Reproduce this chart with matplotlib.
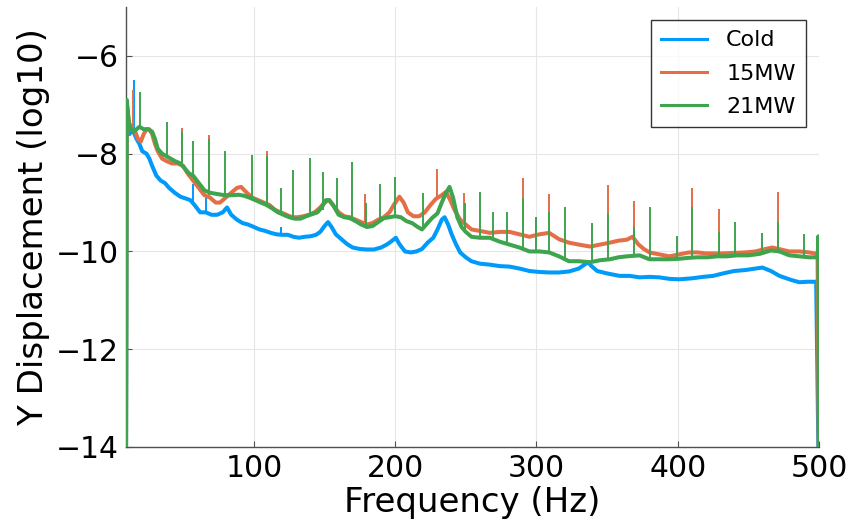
import matplotlib
matplotlib.use('Agg')
import matplotlib.pyplot as plt

# --- data (log10 displacement vs frequency) ---
cold_freq = [9.5, 10, 12, 14, 17, 19, 21, 24, 26, 28, 31, 34, 37, 40, 44, 48, 52, 55, 58,
             62, 66, 70, 74, 78, 81, 84, 88, 92, 96, 100, 104, 108, 112, 116, 120, 124,
             128, 132, 136, 140, 144, 147, 150, 152.5, 155, 158, 162, 166, 170, 175, 180,
             185, 190, 194, 197, 200.5, 203, 207, 211, 215, 219, 223, 227, 230, 233, 235,
             237.5, 240, 243, 246, 250, 254, 260, 267, 274, 281, 288, 295, 302, 309, 316,
             323, 330, 334, 336.5, 339, 343, 350, 359, 366, 373, 380, 387, 394, 401, 410,
             418, 425, 432, 440, 448, 455, 460, 466, 472, 480, 486, 492, 498, 500]
cold_val = [-14.5, -7.3, -7.6, -7.5, -7.7, -7.8, -7.95, -8.0, -8.1, -8.25, -8.45, -8.55,
            -8.6, -8.7, -8.8, -8.88, -8.92, -8.95, -9.05, -9.2, -9.2, -9.25, -9.25, -9.2,
            -9.1, -9.25, -9.35, -9.42, -9.45, -9.5, -9.55, -9.58, -9.62, -9.65, -9.66,
            -9.66, -9.7, -9.72, -9.7, -9.69, -9.66, -9.6, -9.48, -9.4, -9.5, -9.65, -9.75,
            -9.85, -9.92, -9.95, -9.96, -9.96, -9.92, -9.86, -9.8, -9.72, -9.85, -10.0,
            -10.02, -10.0, -9.95, -9.82, -9.72, -9.55, -9.35, -9.3, -9.45, -9.65, -9.85,
            -10.02, -10.12, -10.2, -10.25, -10.27, -10.3, -10.31, -10.35, -10.4, -10.42,
            -10.43, -10.43, -10.41, -10.35, -10.27, -10.22, -10.3, -10.4, -10.45, -10.5,
            -10.5, -10.53, -10.52, -10.53, -10.56, -10.57, -10.55, -10.52, -10.5, -10.45,
            -10.4, -10.38, -10.35, -10.33, -10.4, -10.5, -10.58, -10.63, -10.62, -10.62,
            -15.0]
cold_peak_freq = [15, 57, 66, 119]
cold_peak_base = [-7.6, -9.0, -9.2, -9.66]
cold_peak_top = [-6.5, -8.63, -8.9, -9.5]

mw15_freq = [9.5, 10, 11.5, 13, 16, 18, 20, 22, 24, 26, 28, 30, 32, 35, 38, 42, 46, 50, 53,
             57, 61, 65, 69, 73, 76, 80, 84, 88, 91, 95, 99, 103, 107, 111, 115, 119, 123,
             127, 131, 135, 139, 143, 147, 150, 153, 156, 160, 164, 168, 172, 176, 180,
             184, 188, 192, 196, 199, 203, 206, 209, 213, 217, 221, 225, 229, 233, 236,
             239, 242, 246, 250, 254, 260, 267, 274, 281, 288, 295, 302, 309, 316, 323,
             330, 338, 345, 352, 358, 364, 368, 372, 376, 380, 387, 394, 401, 408, 414,
             420, 426, 432, 440, 448, 455, 462, 467, 473, 479, 486, 493, 499, 500]
mw15_val = [-14.5, -6.95, -7.35, -7.5, -7.55, -7.7, -7.75, -7.6, -7.5, -7.5, -7.6, -7.8,
            -7.95, -8.1, -8.15, -8.2, -8.2, -8.25, -8.4, -8.55, -8.7, -8.85, -8.9, -9.0,
            -9.0, -8.9, -8.8, -8.7, -8.68, -8.8, -8.9, -8.95, -9.0, -9.05, -9.15, -9.2,
            -9.25, -9.3, -9.3, -9.28, -9.25, -9.2, -9.1, -9.0, -8.95, -9.05, -9.2, -9.28,
            -9.3, -9.35, -9.4, -9.45, -9.42, -9.35, -9.3, -9.2, -9.05, -8.88, -9.0, -9.2,
            -9.28, -9.28, -9.2, -9.05, -8.92, -8.85, -8.78, -8.95, -9.15, -9.35, -9.45,
            -9.55, -9.58, -9.62, -9.6, -9.6, -9.65, -9.7, -9.65, -9.62, -9.75, -9.82,
            -9.86, -9.9, -9.86, -9.82, -9.78, -9.76, -9.7, -9.85, -9.95, -10.02, -10.06,
            -10.1, -10.06, -10.02, -10.02, -10.04, -10.04, -10.04, -10.03, -10.02, -10.0,
            -9.95, -9.92, -9.96, -10.0, -10.0, -10.02, -10.05, -15.0]
mw15_peak_freq = [14.5, 49, 68, 109, 179, 229.6, 248.7, 290.4, 299.6, 308.8, 350.6, 369,
                  410, 429, 471]
mw15_peak_base = [-7.5, -8.22, -8.88, -9.02, -9.44, -8.92, -9.4, -9.67, -9.67, -9.62,
                  -9.83, -9.72, -10.03, -10.04, -9.95]
mw15_peak_top = [-6.69, -7.47, -7.61, -7.95, -8.82, -8.31, -8.8, -8.49, -9.29, -8.82,
                 -8.65, -8.96, -8.71, -9.14, -8.78]

mw21_freq = [9.5, 10, 11.5, 13, 15, 17, 19, 22, 25, 28, 30, 32, 35, 38, 41, 44, 48, 51, 54,
             57, 61, 65, 69, 73, 77, 81, 85, 89, 93, 97, 101, 105, 109, 113, 117, 121, 125,
             129, 133, 137, 141, 145, 148, 151, 153.5, 156, 160, 164, 168, 172, 176, 180,
             184, 188, 192, 196, 200, 204, 208, 212, 216, 219, 222, 226, 230, 233, 236,
             238.5, 241, 244, 247, 250, 254, 260, 267, 274, 281, 288, 295, 302, 309, 316,
             323, 330, 338, 345, 352, 358, 364, 373, 380, 387, 394, 401, 408, 414, 421,
             428, 435, 442, 450, 458, 466, 472, 479, 486, 493, 499, 499.6, 500]
mw21_val = [-14.5, -6.9, -7.35, -7.5, -7.55, -7.5, -7.45, -7.5, -7.5, -7.55, -7.7, -7.9,
            -8.0, -8.05, -8.1, -8.15, -8.2, -8.3, -8.4, -8.45, -8.6, -8.75, -8.8, -8.82,
            -8.84, -8.85, -8.85, -8.84, -8.86, -8.9, -8.95, -9.0, -9.05, -9.12, -9.2,
            -9.25, -9.3, -9.33, -9.33, -9.28, -9.24, -9.2, -9.1, -8.95, -8.95, -9.05,
            -9.25, -9.3, -9.32, -9.38, -9.45, -9.5, -9.48, -9.4, -9.32, -9.3, -9.28,
            -9.3, -9.38, -9.42, -9.5, -9.55, -9.45, -9.32, -9.22, -9.0, -8.8, -8.68,
            -8.9, -9.3, -9.5, -9.6, -9.7, -9.72, -9.72, -9.8, -9.86, -9.92, -10.0, -10.0,
            -10.02, -10.1, -10.2, -10.2, -10.22, -10.18, -10.16, -10.12, -10.1, -10.08,
            -10.16, -10.16, -10.16, -10.15, -10.13, -10.12, -10.12, -10.1, -10.1, -10.08,
            -10.08, -10.05, -9.98, -10.0, -10.08, -10.1, -10.12, -10.12, -9.69, -15.0]
mw21_peak_freq = [19.3, 38.4, 49, 56.8, 68, 79.5, 98.6, 109, 119, 128, 139.6, 149, 158.8,
                  169.4, 179.3, 189.2, 200, 219.6, 249.4, 260, 269, 279, 290.4, 299.6,
                  308.8, 320, 339.3, 350.6, 369, 380.4, 399.5, 410, 429, 440.5, 459.6,
                  471, 489.4]
mw21_peak_base = [-7.45, -8.05, -8.22, -8.45, -8.8, -8.85, -8.9, -9.05, -9.2, -9.32,
                  -9.25, -9.15, -9.2, -9.32, -9.5, -9.4, -9.28, -9.55, -9.6, -9.72, -9.72,
                  -9.85, -9.93, -10.0, -10.02, -10.15, -10.22, -10.17, -10.1, -10.16,
                  -10.15, -10.13, -10.1, -10.08, -10.05, -10.0, -10.11]
mw21_peak_top = [-6.73, -7.35, -7.55, -7.74, -7.7, -7.95, -8.02, -8.05, -8.7, -8.33,
                 -8.08, -8.37, -8.49, -8.18, -9.0, -8.63, -8.47, -8.8, -9.0, -8.78, -9.2,
                 -9.2, -8.9, -9.29, -9.2, -9.1, -9.41, -9.24, -9.5, -9.1, -9.69, -9.1,
                 -9.6, -9.39, -9.63, -9.39, -9.65]

labels = ["Cold", "15MW", "21MW"]
colors = ["#009AFA", "#E36F47", "#3EA44E"]

x_ticks = [100, 200, 300, 400, 500]
y_ticks = [-6, -8, -10, -12, -14]

series = [
    (cold_freq, cold_val, cold_peak_freq, cold_peak_base, cold_peak_top),
    (mw15_freq, mw15_val, mw15_peak_freq, mw15_peak_base, mw15_peak_top),
    (mw21_freq, mw21_val, mw21_peak_freq, mw21_peak_base, mw21_peak_top),
]


def main():
    fig = plt.figure(figsize=(8.55, 5.24), dpi=100)
    ax = fig.add_axes([126 / 855, 1 - 447 / 524, (819 - 126) / 855, (447 - 7) / 524])

    for i, (f, v, pf, pb, pt) in enumerate(series):
        ax.plot(f, v, color=colors[i], lw=2.9, label=labels[i], zorder=2 + i)
        ax.vlines(pf, pb, pt, color=colors[i], lw=1.4, zorder=2 + i)

    ax.set_xlim(9.5, 500)
    ax.set_ylim(-14, -5)
    ax.set_xticks(x_ticks)
    ax.set_yticks(y_ticks)
    ax.set_yticklabels(["\u2212{}".format(-t) for t in y_ticks])

    ax.grid(True, color="#e6e6e6", lw=0.8)
    ax.set_axisbelow(True)
    for side in ["top", "right"]:
        ax.spines[side].set_visible(False)
    for side in ["left", "bottom"]:
        ax.spines[side].set_color("#505050")
        ax.spines[side].set_linewidth(1.0)
    ax.tick_params(direction="in", length=4, width=0.8, color="#505050",
                   labelsize=21.5, pad=5)

    ax.set_xlabel("Frequency (Hz)", fontsize=24.5, labelpad=2)
    ax.set_ylabel("Y Displacement (log10)", fontsize=24.5, labelpad=4)

    leg = ax.legend(loc="upper right", fontsize=16, frameon=True, fancybox=False,
                    handlelength=2.1, handletextpad=0.85, labelspacing=0.6,
                    borderpad=0.45, borderaxespad=0.6)
    leg.get_frame().set_edgecolor("black")
    leg.get_frame().set_linewidth(1.0)
    for line in leg.get_lines():
        line.set_linewidth(2.2)

    fig.savefig("out.png", dpi=100)


if __name__ == "__main__":
    main()
